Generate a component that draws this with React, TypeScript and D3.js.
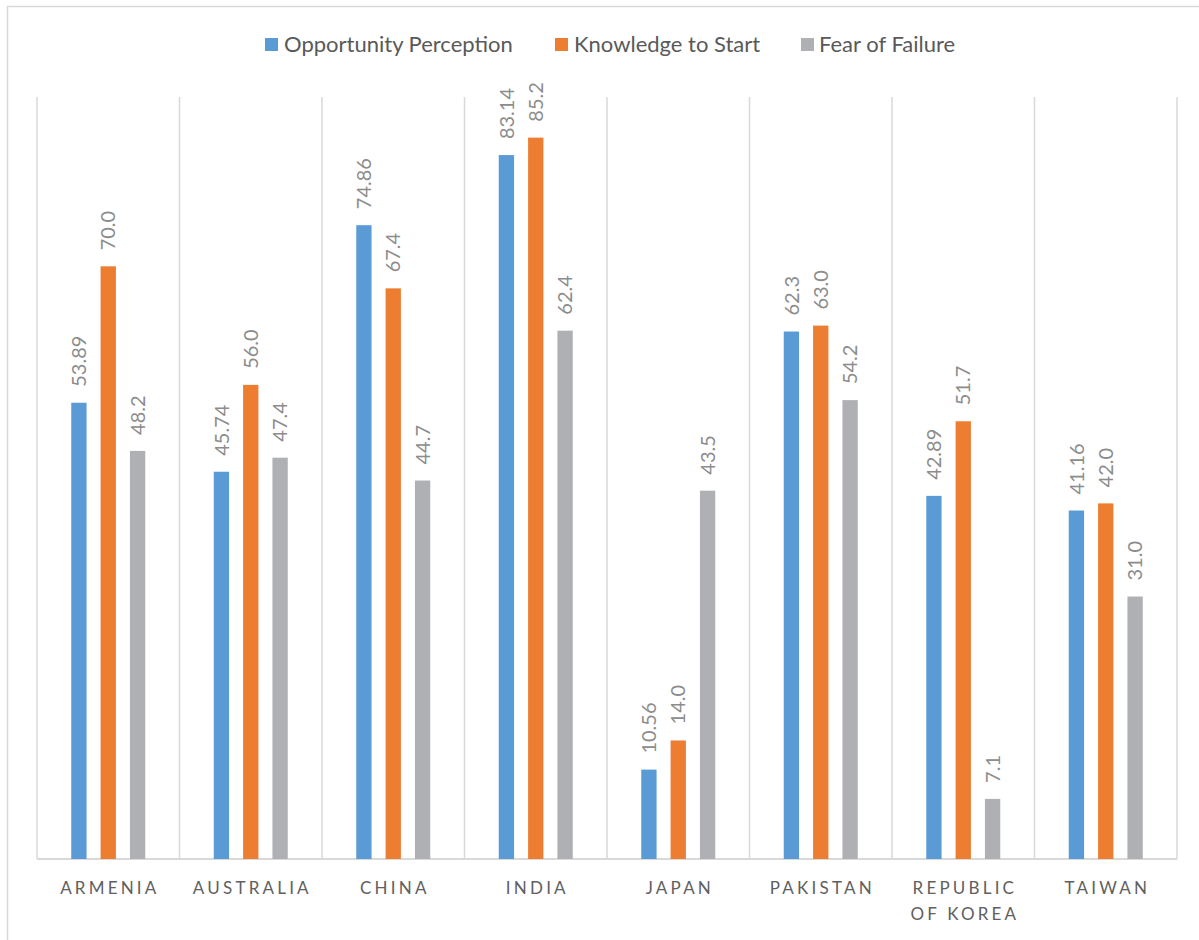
import React from "react";
import * as d3 from "d3";

// Country groups along the x axis, with their wrapped label lines
const categories = ["Armenia", "Australia", "China", "India", "Japan", "Pakistan", "Republic of Korea", "Taiwan"];
const categoryLines = [["ARMENIA"], ["AUSTRALIA"], ["CHINA"], ["INDIA"], ["JAPAN"], ["PAKISTAN"], ["REPUBLIC", "OF KOREA"], ["TAIWAN"]];

// Series (percent of adult population)
const seriesNames = ["Opportunity Perception", "Knowledge to Start", "Fear of Failure"];
const opportunityPerception = [53.89, 45.74, 74.86, 83.14, 10.56, 62.3, 42.89, 41.16];
const knowledgeToStart = [70.0, 56.0, 67.4, 85.2, 14.0, 63.0, 51.7, 42.0];
const fearOfFailure = [48.2, 47.4, 44.7, 62.4, 43.5, 54.2, 7.1, 31.0];

const seriesValues = [opportunityPerception, knowledgeToStart, fearOfFailure];
const seriesColors = ["#5B9BD5", "#ED7D31", "#AFB0B4"];
const labelFormat = [(v: number) => String(v), (v: number) => v.toFixed(1), (v: number) => v.toFixed(1)];

const W = 1199;
const H = 940;
const plot = { left: 37, right: 1177, top: 97, bottom: 859 };
const FONT = "Lato, 'Open Sans', sans-serif";
const gridColor = "#D9D9D9";

export default function App() {
  const x = d3.scaleBand<string>().domain(categories).range([plot.left, plot.right]).padding(0);
  const inner = d3.scaleBand<string>().domain(seriesNames).range([-37, 37]).paddingInner(0.478).paddingOuter(0);
  const y = d3.scaleLinear().domain([0, 90]).range([plot.bottom, plot.top]);

  const boundaries = categories.map((c) => x(c)!).concat([plot.right]);

  // legend layout
  const legendItems = [
    { sq: 265, tx: 284 },
    { sq: 555, tx: 574 },
    { sq: 801, tx: 819 },
  ];

  const catSpacing = 3.2;

  return (
    <svg width={W} height={H} style={{ position: "absolute", left: 0, top: 0, background: "#fff" }} fontFamily={FONT}>
      <rect x={0} y={0} width={W} height={H} fill="#fff" />
      <rect x={7.5} y={6.5} width={W + 20} height={H + 20} fill="none" stroke={gridColor} strokeWidth={1.5} />

      {/* vertical category gridlines */}
      {boundaries.map((bx, i) => (
        <line key={i} x1={bx} x2={bx} y1={plot.top} y2={plot.bottom} stroke={gridColor} strokeWidth={1.5} />
      ))}
      {/* baseline */}
      <line x1={plot.left} x2={plot.right} y1={plot.bottom} y2={plot.bottom} stroke={gridColor} strokeWidth={2} />

      {/* bars */}
      {categories.map((c, ci) =>
        seriesNames.map((s, si) => {
          const v = seriesValues[si][ci];
          const cx = x(c)! + x.bandwidth() / 2;
          const bx = cx + inner(s)!;
          return (
            <rect key={c + s} x={bx} y={y(v)} width={inner.bandwidth()} height={y(0) - y(v)} fill={seriesColors[si]} />
          );
        })
      )}

      {/* value labels */}
      {categories.map((c, ci) =>
        seriesNames.map((s, si) => {
          const v = seriesValues[si][ci];
          const cx = x(c)! + x.bandwidth() / 2 + inner(s)! + inner.bandwidth() / 2;
          const ly = y(v) - 16;
          return (
            <text
              key={"l" + c + s}
              transform={`translate(${cx},${ly}) rotate(-90)`}
              dy="0.36em"
              textAnchor="start"
              fontSize={20}
              fill="#8C8C8C"
            >
              {labelFormat[si](v)}
            </text>
          );
        })
      )}

      {/* category labels */}
      {categories.map((c, ci) => {
        const cx = x(c)! + x.bandwidth() / 2 + catSpacing / 2;
        return (
          <text key={"c" + c} textAnchor="middle" fontSize={17} fill="#606060" letterSpacing={catSpacing}>
            {categoryLines[ci].map((line, li) => (
              <tspan key={li} x={cx} y={894 + li * 25.5}>
                {line}
              </tspan>
            ))}
          </text>
        );
      })}

      {/* legend */}
      {seriesNames.map((s, si) => (
        <g key={"lg" + s}>
          <rect x={legendItems[si].sq} y={38} width={13} height={13} fill={seriesColors[si]} />
          <text x={legendItems[si].tx} y={52} fontSize={22} fill="#595959">
            {s}
          </text>
        </g>
      ))}
    </svg>
  );
}
